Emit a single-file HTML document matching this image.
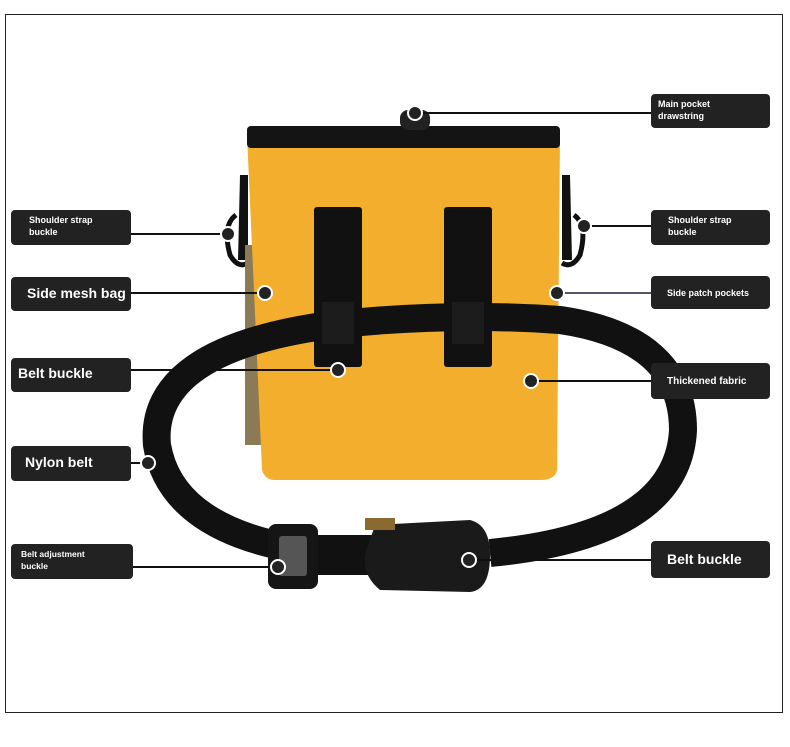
<!DOCTYPE html>
<html><head><meta charset="utf-8"><style>
html,body{margin:0;padding:0;background:#fff;width:790px;height:747px;overflow:hidden}
svg{display:block}
text{font-family:"Liberation Sans",sans-serif;font-weight:bold;fill:#fff}
</style></head><body>
<svg width="790" height="747" viewBox="0 0 790 747" xmlns="http://www.w3.org/2000/svg">
<rect x="5.5" y="14.5" width="777" height="698" fill="#fff" stroke="#222" stroke-width="1"/>
<path d="M240 175 L248 175 L248 260 L238 260 Z" fill="#111"/>
<path d="M236 215 q-14 10 -6 40 q8 14 18 8" fill="none" stroke="#111" stroke-width="5"/>
<path d="M562 175 L570 175 L572 260 L562 260 Z" fill="#111"/>
<path d="M574 215 q14 10 6 40 q-8 14 -18 8" fill="none" stroke="#111" stroke-width="5"/>
<rect x="245" y="245" width="22" height="200" fill="#8a7a55"/>
<path d="M247 135 L560 135 L557 470 Q555 480 540 480 L275 480 Q265 480 262 470 Z" fill="#f2ae2c"/>
<rect x="247" y="126" width="313" height="22" rx="4" fill="#141414"/>
<rect x="400" y="110" width="30" height="20" rx="8" fill="#222"/>
<path d="M290 548 Q170 525 157 445 Q148 350 330 325 Q450 312 560 320 Q683 338 683 430 Q678 535 490 553" fill="none" stroke="#111" stroke-width="28"/>
<rect x="314" y="207" width="48" height="160" rx="3" fill="#111"/>
<rect x="444" y="207" width="48" height="160" rx="3" fill="#111"/>
<rect x="322" y="302" width="32" height="42" fill="#1c1c1c"/>
<rect x="452" y="302" width="32" height="42" fill="#1c1c1c"/>
<rect x="268" y="524" width="50" height="65" rx="8" fill="#151515"/>
<rect x="279" y="536" width="28" height="40" rx="3" fill="#555"/>
<rect x="318" y="535" width="60" height="40" fill="#111"/>
<path d="M375 525 L470 520 Q490 525 490 555 Q490 590 470 592 L380 590 Q362 575 365 555 Z" fill="#1a1a1a"/>
<rect x="365" y="518" width="30" height="12" fill="#8a6a30"/>
<g stroke="#111" stroke-width="2" fill="none">
<line x1="131" y1="234" x2="228" y2="234"/>
<line x1="131" y1="293" x2="265" y2="293"/>
<line x1="131" y1="370" x2="338" y2="370"/>
<line x1="131" y1="463" x2="148" y2="463"/>
<line x1="133" y1="567" x2="278" y2="567"/>
<line x1="415" y1="113" x2="651" y2="113"/>
<line x1="584" y1="226" x2="651" y2="226"/>
<line x1="557" y1="293" x2="651" y2="293" stroke="#556"/>
<line x1="531" y1="381" x2="651" y2="381"/>
<line x1="469" y1="560" x2="651" y2="560"/>
</g>
<g fill="#222" stroke="#fff" stroke-width="2">
<circle cx="228" cy="234" r="7"/><circle cx="265" cy="293" r="7"/><circle cx="338" cy="370" r="7"/>
<circle cx="148" cy="463" r="7"/><circle cx="278" cy="567" r="7"/><circle cx="415" cy="113" r="7"/>
<circle cx="584" cy="226" r="7"/><circle cx="557" cy="293" r="7"/><circle cx="531" cy="381" r="7"/>
<circle cx="469" cy="560" r="7"/>
</g>
<g fill="#222">
<rect x="11" y="210" width="120" height="35" rx="4"/>
<rect x="11" y="277" width="120" height="34" rx="4"/>
<rect x="11" y="358" width="120" height="34" rx="4"/>
<rect x="11" y="446" width="120" height="35" rx="4"/>
<rect x="11" y="544" width="122" height="35" rx="4"/>
<rect x="651" y="94" width="119" height="34" rx="4"/>
<rect x="651" y="210" width="119" height="35" rx="4"/>
<rect x="651" y="276" width="119" height="33" rx="4"/>
<rect x="651" y="363" width="119" height="36" rx="4"/>
<rect x="651" y="541" width="119" height="37" rx="4"/>
</g>
<text x="29" y="223" font-size="9">Shoulder strap</text>
<text x="29" y="235" font-size="9">buckle</text>
<text x="27" y="298" font-size="14">Side mesh bag</text>
<text x="18" y="378" font-size="14">Belt buckle</text>
<text x="25" y="467" font-size="14">Nylon belt</text>
<text x="21" y="557" font-size="8.5">Belt adjustment</text>
<text x="21" y="569" font-size="8.5">buckle</text>
<text x="658" y="107" font-size="9">Main pocket</text>
<text x="658" y="119" font-size="9">drawstring</text>
<text x="668" y="223" font-size="9">Shoulder strap</text>
<text x="668" y="235" font-size="9">buckle</text>
<text x="667" y="296" font-size="9">Side patch pockets</text>
<text x="667" y="384" font-size="10">Thickened fabric</text>
<text x="667" y="564" font-size="14">Belt buckle</text>
</svg>
</body></html>
